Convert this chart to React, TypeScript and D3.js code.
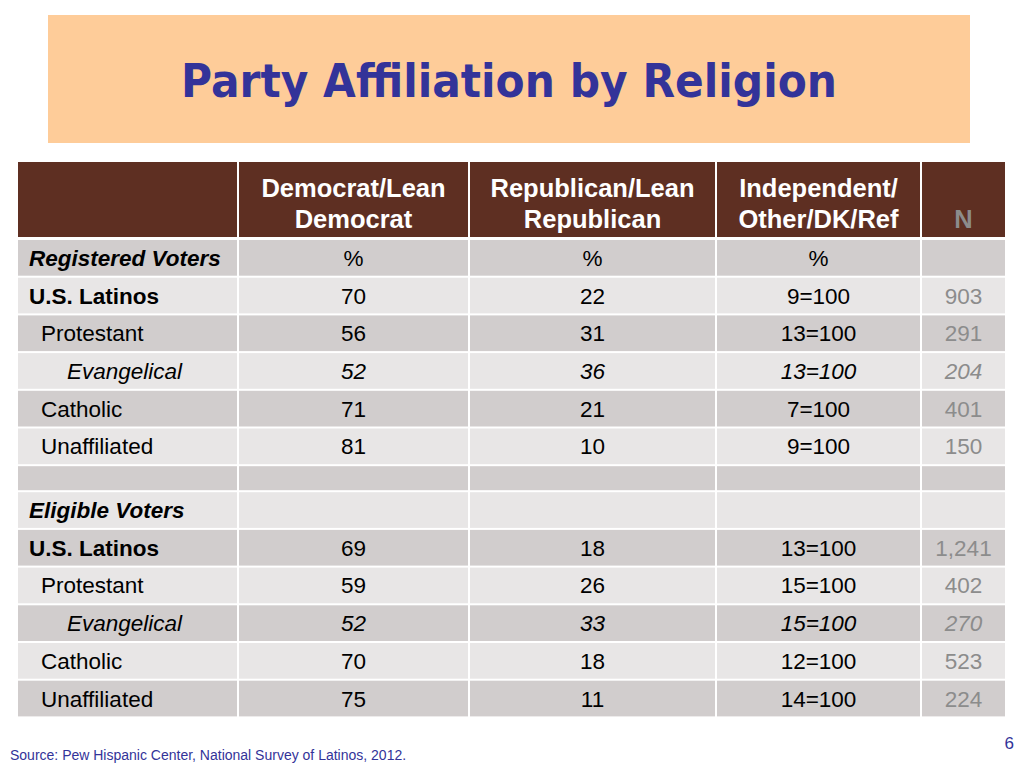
import React from "react";
import * as d3 from "d3";

const title = "Party Affiliation by Religion";
const headers = [["Democrat/Lean", "Democrat"], ["Republican/Lean", "Republican"], ["Independent/", "Other/DK/Ref"], ["N"]];
const rowLabels = ["Registered Voters", "U.S. Latinos", "Protestant", "Evangelical", "Catholic", "Unaffiliated", "", "Eligible Voters", "U.S. Latinos", "Protestant", "Evangelical", "Catholic", "Unaffiliated"];
const rowKinds = ["section", "total", "sub", "subsub", "sub", "sub", "blank", "section", "total", "sub", "subsub", "sub", "sub"];
const democrat = ["%", "70", "56", "52", "71", "81", "", "", "69", "59", "52", "70", "75"];
const republican = ["%", "22", "31", "36", "21", "10", "", "", "18", "26", "33", "18", "11"];
const independent = ["%", "9=100", "13=100", "13=100", "7=100", "9=100", "", "", "13=100", "15=100", "15=100", "12=100", "14=100"];
const nValues = ["", "903", "291", "204", "401", "150", "", "", "1,241", "402", "270", "523", "224"];
const source = "Source: Pew Hispanic Center, National Survey of Latinos, 2012.";
const pageNumber = "6";

const colEdges = [18, 238, 469, 716, 921, 1006];
const headerTop = 162;
const headerBottom = 238;
const rowH = 37.7;
const blankH = 26;

export default function App() {
  const heights = rowKinds.map((k) => (k === "blank" ? blankH : rowH));
  const tops: number[] = [];
  let acc = headerBottom + 1;
  heights.forEach((h) => {
    tops.push(acc);
    acc += h;
  });
  const cols = [democrat, republican, independent, nValues];
  const font = "'Liberation Sans', Arial, sans-serif";
  const dark = "#d1cdcd";
  const light = "#e8e6e6";
  const xCenter = (i: number) => (colEdges[i] + colEdges[i + 1]) / 2;

  return (
    <svg width={1024} height={768} style={{ position: "absolute", left: 0, top: 0 }}>
      <rect x={0} y={0} width={1024} height={768} fill="#ffffff" />
      <rect x={48} y={15} width={922} height={128} fill="#fecc99" />
      <text x={509} y={97} textAnchor="middle" fontFamily="'DejaVu Sans', Verdana, sans-serif" fontWeight="bold" fontSize={47} fill="#333399" textLength={656} lengthAdjust="spacingAndGlyphs">
        {title}
      </text>
      {/* header */}
      {colEdges.slice(0, -1).map((x0, i) => (
        <rect key={"h" + i} x={x0 + (i === 0 ? 0 : 1)} y={headerTop} width={colEdges[i + 1] - x0 - (i === 0 ? 1 : 2)} height={headerBottom - headerTop - 1} fill="#5e2f22" />
      ))}
      {headers.map((lines, i) => (
        <text key={"ht" + i} textAnchor="middle" fontFamily={font} fontWeight="bold" fontSize={25.5} fill={i === 3 ? "#8c8c8c" : "#ffffff"}>
          {lines.length === 2 ? (
            lines.map((l, j) => (
              <tspan key={j} x={xCenter(i + 1)} y={197 + j * 31}>
                {l}
              </tspan>
            ))
          ) : (
            <tspan x={xCenter(i + 1)} y={228}>
              {lines[0]}
            </tspan>
          )}
        </text>
      ))}
      {/* rows */}
      {rowKinds.map((kind, r) => {
        const y0 = tops[r];
        const h = heights[r];
        const fill = r % 2 === 0 ? dark : light;
        const italic = kind === "subsub" || kind === "section";
        const baseline = y0 + h / 2 + 8;
        const labelX = kind === "sub" ? 41 : kind === "subsub" ? 67 : 29;
        return (
          <g key={"r" + r}>
            {colEdges.slice(0, -1).map((x0, i) => (
              <rect key={i} x={x0 + (i === 0 ? 0 : 1)} y={y0 + 1} width={colEdges[i + 1] - x0 - (i === 0 ? 1 : 2)} height={h - 2} fill={fill} />
            ))}
            <text x={labelX} y={baseline} fontFamily={font} fontSize={22.5} fontWeight={kind === "section" || kind === "total" ? "bold" : "normal"} fontStyle={italic ? "italic" : "normal"} fill="#000000">
              {rowLabels[r]}
            </text>
            {cols.map((vals, c) => (
              <text key={c} x={xCenter(c + 1)} y={baseline} textAnchor="middle" fontFamily={font} fontSize={22.5} fontStyle={kind === "subsub" ? "italic" : "normal"} fill={c === 3 ? "#8c8c8c" : "#000000"}>
                {vals[r]}
              </text>
            ))}
          </g>
        );
      })}
      <text x={10} y={760} fontFamily={font} fontSize={14} fill="#333399">
        {source}
      </text>
      <text x={1014} y={749} textAnchor="end" fontFamily={font} fontSize={17} fill="#333399">
        {pageNumber}
      </text>
    </svg>
  );
}
